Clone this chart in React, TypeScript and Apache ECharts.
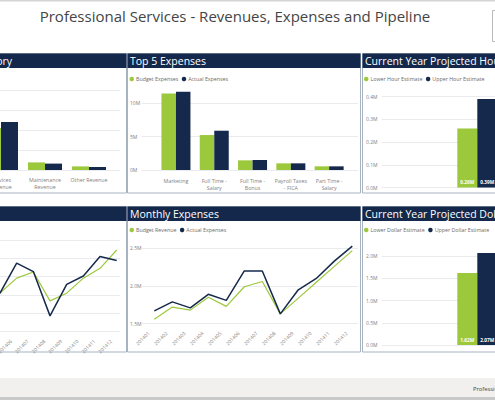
import React, { useEffect, useRef } from "react";
import * as echarts from "echarts";

// ---------- data ----------
const revenueCategories = ["Services\nRevenue", "Maintenance\nRevenue", "Other Revenue"];
const revenueBudget = [10.5, 1.9, 0.9];
const revenueActual = [12.0, 1.6, 0.75];

const expenseCategories = ["Marketing", "Full Time -\nSalary", "Full Time -\nBonus", "Payroll Taxes\n- FICA", "Part Time -\nSalary"];
const expenseBudget = [11.5, 5.25, 1.45, 1.0, 0.55];
const expenseActual = [11.75, 5.9, 1.5, 1.0, 0.55];

const hourCategory = ["2014"];
const hourLower = [0.26];
const hourUpper = [0.39];

const months = ["201401", "201402", "201403", "201404", "201405", "201406", "201407", "201408", "201409", "201410", "201411", "201412"];
const monthlyRevenueBudget = [1.5, 1.7, 1.6, 1.8, 1.55, 1.96, 2.13, 1.34, 1.55, 1.96, 2.23, 2.73];
const monthlyRevenueActual = [1.6, 1.8, 1.7, 1.9, 1.55, 2.37, 2.14, 0.93, 1.79, 2.02, 2.55, 2.44];
const monthlyExpenseBudget = [1.56, 1.72, 1.68, 1.85, 1.73, 1.99, 2.06, 1.63, 1.84, 2.05, 2.26, 2.47];
const monthlyExpenseActual = [1.67, 1.79, 1.71, 1.89, 1.81, 2.2, 2.2, 1.63, 1.95, 2.1, 2.33, 2.53];

const dollarCategory = ["2014"];
const dollarLower = [1.62];
const dollarUpper = [2.07];

const TITLE = "Professional Services - Revenues, Expenses and Pipeline";
const panelTitles = ["Revenue by Category", "Top 5 Expenses", "Current Year Projected Hours", "Monthly Revenue", "Monthly Expenses", "Current Year Projected Dollars"];

// ---------- styles ----------
const FONT = "Open Sans";
const NAVY = "#14294c";
const GREEN = "#9cc83c";
const HEADER = "#13284b";
const BORDER = "#a8b3c2";
const GRIDLINE = "#e9ebee";
const LABEL = "#7f7f7f";

const fmt0 = (v: number) => `${Math.round(v)}M`;
const fmt1 = (v: number) => `${v.toFixed(1)}M`;

function bgY(gridIndex: number, min: number, max: number, interval: number, showLabel: boolean, formatter: any, margin: number, maxOnTick: boolean) {
  return {
    type: "value", gridIndex, min, max, interval,
    axisLine: { show: false }, axisTick: { show: false },
    splitLine: { show: true, showMaxLine: maxOnTick, lineStyle: { color: GRIDLINE, width: 1 } },
    axisLabel: { show: showLabel, showMaxLabel: maxOnTick, align: "left", margin, fontSize: 5, color: LABEL, fontFamily: FONT, formatter },
  };
}
function hiddenY(gridIndex: number, min: number, max: number) {
  return { type: "value", gridIndex, min, max, show: false, splitLine: { show: false } };
}
function bgX(gridIndex: number) {
  return { type: "value", gridIndex, min: 0, max: 1, show: false, splitLine: { show: false } };
}
function catX(gridIndex: number, data: string[], margin: number) {
  return {
    type: "category", gridIndex, data,
    axisLine: { show: false }, axisTick: { show: false },
    axisLabel: { interval: 0, fontSize: 5.3, lineHeight: 7.5, color: LABEL, fontFamily: FONT, margin, hideOverlap: false },
  };
}
function monthX(gridIndex: number) {
  return {
    type: "category", gridIndex, data: months, boundaryGap: false,
    axisLine: { show: false }, axisTick: { show: false },
    axisLabel: { interval: 0, rotate: 45, fontSize: 5, color: LABEL, fontFamily: FONT, margin: 3, padding: [0, 8, 0, 0] },
  };
}
function legend(left: number, top: number, data: string[]) {
  return {
    left, top, data, padding: 0, itemGap: 3.5, itemWidth: 4.5, itemHeight: 4.5, icon: "circle", selectedMode: false,
    textStyle: { fontSize: 5.3, color: "#6a6a6a", fontFamily: FONT, padding: [0, 0, 0, -3] },
  };
}
function bar(name: string, x: number, data: number[], color: string, barWidth: number, label?: boolean) {
  return {
    type: "bar", name, xAxisIndex: x, yAxisIndex: x, data, barWidth, barGap: "0%",
    itemStyle: { color },
    label: label
      ? { show: true, position: "insideBottom", distance: 3, color: "#fff", fontSize: 4.8, fontWeight: "bold", fontFamily: FONT, formatter: (p: any) => `${p.value.toFixed(2)}M` }
      : { show: false },
  };
}
function line(name: string, x: number, data: number[], color: string, width: number) {
  return {
    type: "line", name, xAxisIndex: x, yAxisIndex: x, data, showSymbol: false, symbol: "none",
    itemStyle: { color }, lineStyle: { color, width },
  };
}
function grid(left: number, top: number, width: number, height: number) {
  return { left, top, width, height, containLabel: false, outerBoundsMode: "none" };
}

const panels = [
  { x: -10, y: 53.5, w: 136.5, h: 139.5, title: panelTitles[0], right: true },
  { x: 127.5, y: 53.5, w: 233, h: 139.5, title: panelTitles[1] },
  { x: 362.5, y: 53.5, w: 150, h: 139.5, title: panelTitles[2] },
  { x: -10, y: 206.5, w: 136.5, h: 145.5, title: panelTitles[3], right: true, hidden: true },
  { x: 127.5, y: 206.5, w: 233, h: 145.5, title: panelTitles[4] },
  { x: 362.5, y: 206.5, w: 150, h: 145.5, title: panelTitles[5] },
];

function buildGraphic() {
  const els: any[] = [
    { type: "rect", z: -5, shape: { x: 0, y: 0, width: 495, height: 400 }, style: { fill: "#ffffff" } },
    { type: "rect", z: -4, shape: { x: 0, y: 0, width: 495, height: 1.5 }, style: { fill: "#d4d4d4" } },
    { type: "text", x: 235, y: 15.5, style: { text: TITLE, fontSize: 15, fontFamily: FONT, fill: "#454545", align: "center", textAlign: "center", verticalAlign: "middle", textVerticalAlign: "middle" } },
    { type: "rect", shape: { x: 492.5, y: 10.5, width: 12, height: 31 }, style: { fill: "#fff", stroke: "#b8b8b8", lineWidth: 1 } },
    { type: "rect", z: -4, shape: { x: 0, y: 378, width: 495, height: 19 }, style: { fill: "#f1f0ee" } },
    { type: "rect", z: -4, shape: { x: 0, y: 397, width: 495, height: 3 }, style: { fill: "#c9c9c9" } },
    { type: "text", x: 473, y: 389, style: { text: "Professional Services", fontSize: 5.8, fontFamily: FONT, fill: "#444", align: "left", textAlign: "left", verticalAlign: "middle", textVerticalAlign: "middle" } },
  ];
  panels.forEach((p) => {
    els.push({ type: "rect", z: -3, shape: { x: p.x, y: p.y, width: p.w, height: p.h }, style: { fill: "#fff", stroke: BORDER, lineWidth: 1 } });
    els.push({ type: "rect", z: 5, shape: { x: p.x, y: p.y, width: p.w, height: 14.5 }, style: { fill: HEADER } });
    const ty = p.y + 7.8;
    if (p.right) {
      if (!p.hidden) {
        els.push({ type: "text", z: 6, x: 12, y: ty, style: { text: p.title, fontSize: 10.5, fontFamily: FONT, fill: "#fff", align: "right", textAlign: "right", verticalAlign: "middle", textVerticalAlign: "middle" } });
      }
    } else {
      els.push({ type: "text", z: 6, x: p.x + 2.5, y: ty, style: { text: p.title, fontSize: 10.5, fontFamily: FONT, fill: "#fff", align: "left", textAlign: "left", verticalAlign: "middle", textVerticalAlign: "middle" } });
    }
  });
  return els;
}

export default function App() {
  const ref = useRef<HTMLDivElement>(null);
  useEffect(() => {
    if (!ref.current) return;
    const chart = echarts.init(ref.current, null, { renderer: "svg", width: 495, height: 400 });
    const option: any = {
      animation: false,
      textStyle: { fontFamily: FONT },
      graphic: buildGraphic(),
      grid: [
        grid(-10, 90, 130, 80),          // 0 bg rev cat
        grid(-21, 90, 132, 80),          // 1 rev cat
        grid(141.7, 90.1, 216.3, 79.9),  // 2 bg expenses
        grid(156.8, 90.1, 191.5, 79.9),  // 3 expenses
        grid(381.7, 96.7, 191.2, 90.8),  // 4 hours
        grid(-10, 240.1, 130, 91.5),     // 5 bg monthly rev
        grid(-66.7, 240.1, 183.4, 91.5), // 6 monthly rev
        grid(141.7, 240.8, 216.3, 82.9), // 7 bg monthly exp
        grid(154.3, 240.8, 198, 82.9),   // 8 monthly exp
        grid(381.7, 251.55, 191.2, 93.45), // 9 dollars
      ],
      xAxis: [
        bgX(0),
        catX(1, revenueCategories, 6),
        bgX(2),
        catX(3, expenseCategories, 7),
        { type: "category", gridIndex: 4, data: hourCategory, show: false },
        bgX(5),
        monthX(6),
        bgX(7),
        monthX(8),
        { type: "category", gridIndex: 9, data: dollarCategory, show: false },
      ],
      yAxis: [
        bgY(0, 0, 20, 5, false, fmt0, 10, true),
        hiddenY(1, 0, 20),
        bgY(2, 0, 12, 5, true, fmt0, 11.7, false),
        hiddenY(3, 0, 12),
        bgY(4, 0, 0.4, 0.1, true, fmt1, 15.7, true),
        bgY(5, 0.5, 3.0, 0.5, false, fmt1, 10, true),
        hiddenY(6, 0.5, 3.0),
        bgY(7, 1.5, 2.6, 0.5, true, fmt1, 11.7, false),
        hiddenY(8, 1.5, 2.6),
        bgY(9, 0, 2.1, 0.5, true, fmt1, 15.7, false),
      ],
      legend: [
        legend(129.5, 76.5, ["Budget Expenses", "Actual Expenses"]),
        legend(364, 76.5, ["Lower Hour Estimate", "Upper Hour Estimate"]),
        legend(129.5, 227.5, ["Budget Revenue", "Actual Expenses"]),
        legend(364, 227.5, ["Lower Dollar Estimate", "Upper Dollar Estimate"]),
      ],
      series: [
        bar("Budget Revenue", 1, revenueBudget, GREEN, 17),
        bar("Actual Revenue", 1, revenueActual, NAVY, 17),
        bar("Budget Expenses", 3, expenseBudget, GREEN, 14.5),
        bar("Actual Expenses", 3, expenseActual, NAVY, 14.5),
        bar("Lower Hour Estimate", 4, hourLower, GREEN, 20, true),
        bar("Upper Hour Estimate", 4, hourUpper, NAVY, 20, true),
        line("Budget Revenue", 6, monthlyRevenueBudget, GREEN, 1.2),
        line("Actual Revenue", 6, monthlyRevenueActual, NAVY, 1.5),
        line("Budget Revenue", 8, monthlyExpenseBudget, GREEN, 1.2),
        line("Actual Expenses", 8, monthlyExpenseActual, NAVY, 1.5),
        bar("Lower Dollar Estimate", 9, dollarLower, GREEN, 20, true),
        bar("Upper Dollar Estimate", 9, dollarUpper, NAVY, 20, true),
      ],
    };
    chart.setOption(option);
    return () => chart.dispose();
  }, []);
  return <div ref={ref} style={{ position: "absolute", left: 0, top: 0, width: 495, height: 400 }} />;
}
